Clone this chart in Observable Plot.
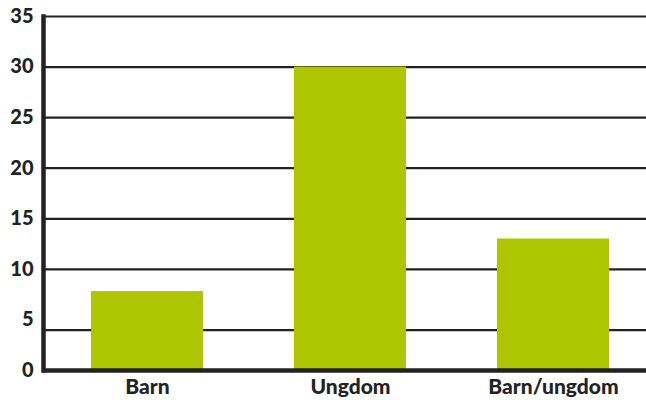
<!DOCTYPE html>
<html>
<head>
<meta charset="utf-8">
<script src="https://cdn.jsdelivr.net/npm/d3@7"></script>
<script src="https://cdn.jsdelivr.net/npm/@observablehq/plot@0.6"></script>
<style>
  html, body { margin: 0; padding: 0; background: #fff; }
  #chart svg { display: block; }
</style>
</head>
<body>
<div id="chart"></div>
<script>
const categories = ["Barn", "Ungdom", "Barn/ungdom"];
const values = [7.8, 30, 13];
const yTicks = [0, 5, 10, 15, 20, 25, 30, 35];
const gridLines = [4, 10, 15, 20, 25, 30, 35];

const data = categories.map((c, i) => ({category: c, value: values[i]}));

const chart = Plot.plot({
  width: 646,
  height: 400,
  marginLeft: 43,
  marginRight: 0,
  marginTop: 16,
  marginBottom: 30,
  style: {fontFamily: "Lato, 'Open Sans', sans-serif", color: "#222", background: "#fff"},
  x: {domain: categories, range: [43, 656], paddingInner: 0.45, paddingOuter: 0.23, label: null},
  y: {domain: [0, 35], label: null},
  marks: [
    Plot.ruleY(gridLines, {stroke: "#222", strokeWidth: 2.2}),
    Plot.barY(data, {x: "category", y: "value", fill: "#adc600"}),
    Plot.ruleY([0], {stroke: "#222", strokeWidth: 4.5}),
    Plot.frame({anchor: "left", stroke: "#222", strokeWidth: 4.5}),
    Plot.axisY(yTicks, {tickSize: 0, tickPadding: 10, fontSize: 20, fontWeight: 900, fill: "#222", label: null}),
    Plot.axisX({tickSize: 0, tickPadding: 9, fontSize: 21, fontWeight: 900, fill: "#222", label: null})
  ]
});
document.getElementById("chart").appendChild(chart);
</script>
</body>
</html>
